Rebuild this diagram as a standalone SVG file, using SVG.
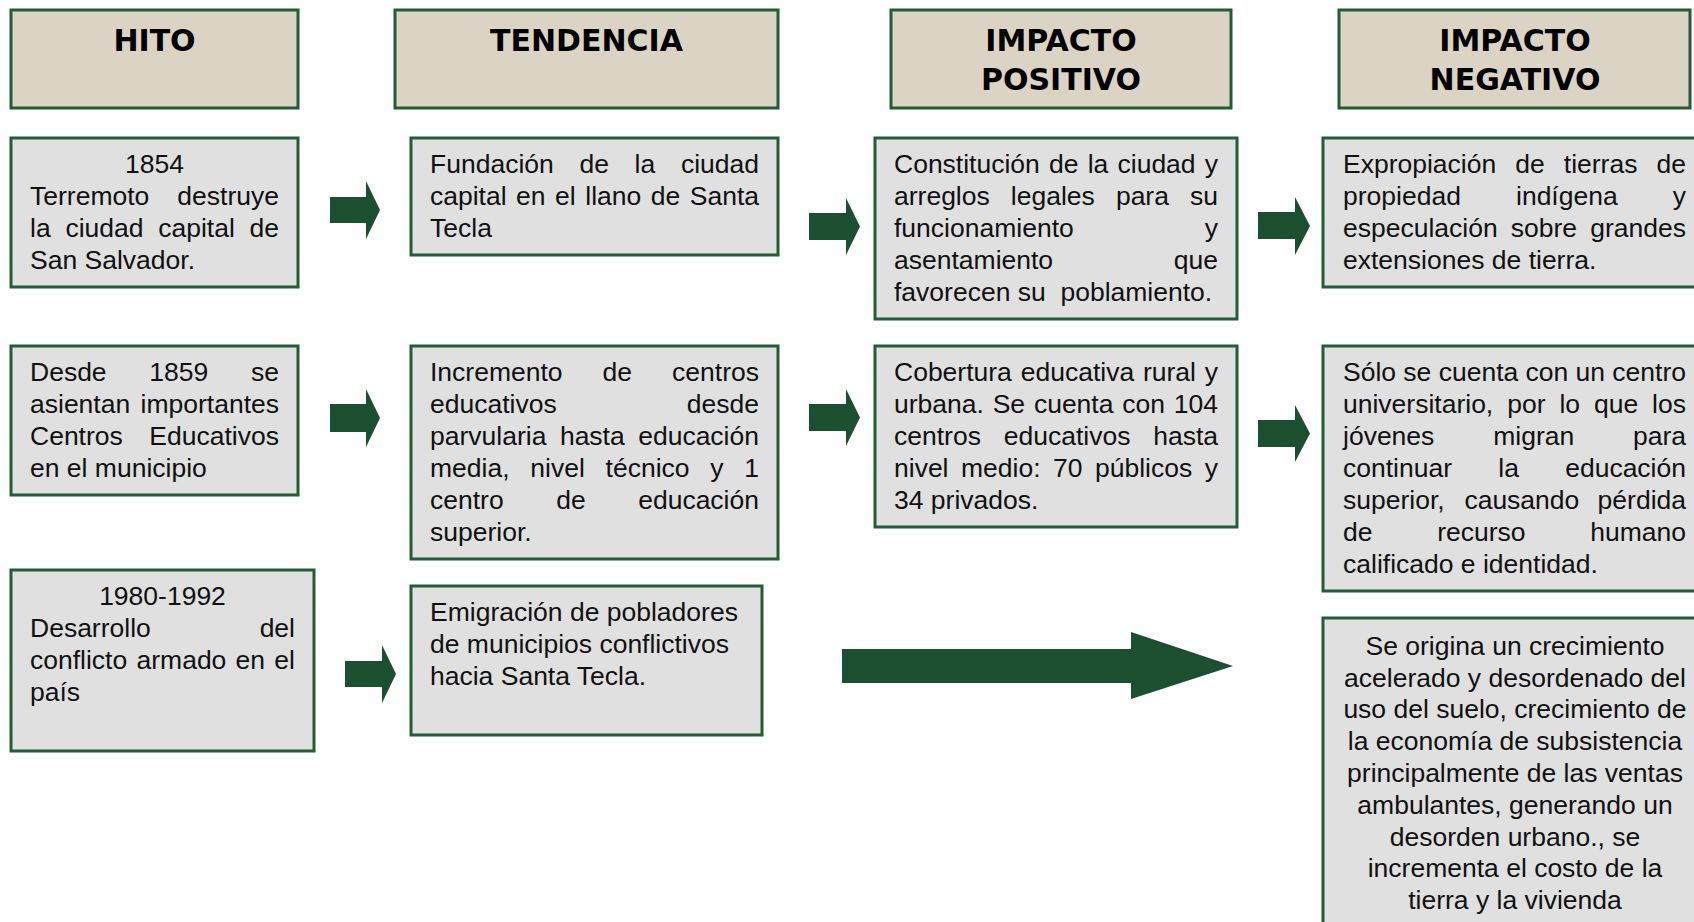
<svg xmlns="http://www.w3.org/2000/svg" width="1694" height="922" viewBox="0 0 1694 922">
<style>
.hd{fill:#dbd4c4;stroke:#245c37;stroke-width:3}
.bx{fill:#e0e0e0;stroke:#245c37;stroke-width:3}
.h{font-family:"DejaVu Sans",Verdana,sans-serif;font-weight:bold;font-size:30px;text-anchor:middle;fill:#000}
.t{font-family:"Liberation Sans",Arial,sans-serif;font-size:26.5px;fill:#111}
.c{text-anchor:middle}
.e{text-anchor:end}
.ar{fill:#1c4f30}
</style>
<rect width="1694" height="922" fill="#fff"/>

<g id="hdr-hito"><rect class="hd" x="11" y="10" width="287" height="98"/><text class="h" x="154.5" y="51">HITO</text></g>
<g id="hdr-tendencia"><rect class="hd" x="395" y="10" width="383" height="98"/><text class="h" x="586.5" y="51">TENDENCIA</text></g>
<g id="hdr-positivo"><rect class="hd" x="891" y="10" width="340" height="98"/><text class="h" x="1061" y="51">IMPACTO</text><text class="h" x="1061" y="90">POSITIVO</text></g>
<g id="hdr-negativo"><rect class="hd" x="1339" y="10" width="351" height="98"/><text class="h" x="1515" y="51">IMPACTO</text><text class="h" x="1515" y="90">NEGATIVO</text></g>

<g id="n1854"><rect class="bx" x="11" y="138" width="287" height="149"/>
<text class="t c" x="154.5" y="173">1854</text>
<text class="t" y="205"><tspan x="30">Terremoto</tspan><tspan class="e" x="279">destruye</tspan></text>
<text class="t" y="237"><tspan x="30">la</tspan><tspan x="65.4">ciudad</tspan><tspan x="158.2">capital</tspan><tspan class="e" x="279">de</tspan></text>
<text class="t" x="30" y="269">San Salvador.</text>
</g>

<g id="nfundacion"><rect class="bx" x="411" y="138" width="367" height="117"/>
<text class="t" y="173"><tspan x="430">Fundación</tspan><tspan x="579.4">de</tspan><tspan x="634.6">la</tspan><tspan class="e" x="759">ciudad</tspan></text>
<text class="t" y="205"><tspan x="430">capital</tspan><tspan x="516.1">en</tspan><tspan x="555.1">el</tspan><tspan x="585.3">llano</tspan><tspan x="650.8">de</tspan><tspan class="e" x="759">Santa</tspan></text>
<text class="t" x="430" y="237">Tecla</text>
</g>

<g id="nconstitucion"><rect class="bx" x="875" y="138" width="362" height="181"/>
<text class="t" y="173"><tspan x="894">Constitución</tspan><tspan x="1049">de</tspan><tspan x="1087.7">la</tspan><tspan x="1117.5">ciudad</tspan><tspan class="e" x="1218">y</tspan></text>
<text class="t" y="205"><tspan x="894">arreglos</tspan><tspan x="1010.8">legales</tspan><tspan x="1115.9">para</tspan><tspan class="e" x="1218">su</tspan></text>
<text class="t" y="237"><tspan x="894">funcionamiento</tspan><tspan class="e" x="1218">y</tspan></text>
<text class="t" y="269"><tspan x="894">asentamiento</tspan><tspan class="e" x="1218">que</tspan></text>
<text class="t" x="894" y="301" xml:space="preserve">favorecen su  poblamiento.</text>
</g>

<g id="nexpropiacion"><rect class="bx" x="1323" y="138" width="384" height="149"/>
<text class="t" y="173"><tspan x="1343">Expropiación</tspan><tspan x="1515.3">de</tspan><tspan x="1563.8">tierras</tspan><tspan class="e" x="1686">de</tspan></text>
<text class="t" y="205"><tspan x="1343">propiedad</tspan><tspan x="1516">indígena</tspan><tspan class="e" x="1686">y</tspan></text>
<text class="t" y="237"><tspan x="1343">especulación</tspan><tspan x="1510.8">sobre</tspan><tspan class="e" x="1686">grandes</tspan></text>
<text class="t" x="1343" y="269">extensiones de tierra.</text>
</g>

<g id="ndesde"><rect class="bx" x="11" y="346" width="287" height="149"/>
<text class="t" y="381"><tspan x="30">Desde</tspan><tspan x="149.3">1859</tspan><tspan class="e" x="279">se</tspan></text>
<text class="t" y="413"><tspan x="30">asientan</tspan><tspan class="e" x="279">importantes</tspan></text>
<text class="t" y="445"><tspan x="30">Centros</tspan><tspan class="e" x="279">Educativos</tspan></text>
<text class="t" x="30" y="477">en el municipio</text>
</g>

<g id="nincremento"><rect class="bx" x="411" y="346" width="367" height="213"/>
<text class="t" y="381"><tspan x="430">Incremento</tspan><tspan x="602.6">de</tspan><tspan class="e" x="759">centros</tspan></text>
<text class="t" y="413"><tspan x="430">educativos</tspan><tspan class="e" x="759">desde</tspan></text>
<text class="t" y="445"><tspan x="430">parvularia</tspan><tspan x="559.9">hasta</tspan><tspan class="e" x="759">educación</tspan></text>
<text class="t" y="477"><tspan x="430">media,</tspan><tspan x="530.3">nivel</tspan><tspan x="605.6">técnico</tspan><tspan x="710.3">y</tspan><tspan class="e" x="759">1</tspan></text>
<text class="t" y="509"><tspan x="430">centro</tspan><tspan x="556.2">de</tspan><tspan class="e" x="759">educación</tspan></text>
<text class="t" x="430" y="541">superior.</text>
</g>

<g id="ncobertura"><rect class="bx" x="875" y="346" width="362" height="181"/>
<text class="t" y="381"><tspan x="894">Cobertura</tspan><tspan x="1020.7">educativa</tspan><tspan x="1142.9">rural</tspan><tspan class="e" x="1218">y</tspan></text>
<text class="t" y="413"><tspan x="894">urbana.</tspan><tspan x="992.7">Se</tspan><tspan x="1033.9">cuenta</tspan><tspan x="1122.3">con</tspan><tspan class="e" x="1218">104</tspan></text>
<text class="t" y="445"><tspan x="894">centros</tspan><tspan x="1003.7">educativos</tspan><tspan class="e" x="1218">hasta</tspan></text>
<text class="t" y="477"><tspan x="894">nivel</tspan><tspan x="961">medio:</tspan><tspan x="1053">70</tspan><tspan x="1095">públicos</tspan><tspan class="e" x="1218">y</tspan></text>
<text class="t" x="894" y="509">34 privados.</text>
</g>

<g id="nsolo"><rect class="bx" x="1323" y="346" width="384" height="245"/>
<text class="t" y="381"><tspan x="1343">Sólo</tspan><tspan x="1403.3">se</tspan><tspan x="1438.7">cuenta</tspan><tspan x="1525.5">con</tspan><tspan x="1575.6">un</tspan><tspan class="e" x="1686">centro</tspan></text>
<text class="t" y="413"><tspan x="1343">universitario,</tspan><tspan x="1507.2">por</tspan><tspan x="1559.4">lo</tspan><tspan x="1594">que</tspan><tspan class="e" x="1686">los</tspan></text>
<text class="t" y="445"><tspan x="1343">jóvenes</tspan><tspan x="1493.2">migran</tspan><tspan class="e" x="1686">para</tspan></text>
<text class="t" y="477"><tspan x="1343">continuar</tspan><tspan x="1498.3">la</tspan><tspan class="e" x="1686">educación</tspan></text>
<text class="t" y="509"><tspan x="1343">superior,</tspan><tspan x="1464.4">causando</tspan><tspan class="e" x="1686">pérdida</tspan></text>
<text class="t" y="541"><tspan x="1343">de</tspan><tspan x="1437.2">recurso</tspan><tspan class="e" x="1686">humano</tspan></text>
<text class="t" x="1343" y="573">calificado e identidad.</text>
</g>

<g id="n1980"><rect class="bx" x="11" y="570" width="303" height="181"/>
<text class="t c" x="162.5" y="605">1980-1992</text>
<text class="t" y="637"><tspan x="30">Desarrollo</tspan><tspan class="e" x="295">del</tspan></text>
<text class="t" y="669"><tspan x="30">conflicto</tspan><tspan x="136.5">armado</tspan><tspan x="235.6">en</tspan><tspan class="e" x="295">el</tspan></text>
<text class="t" x="30" y="701">país</text>
</g>

<g id="nemigracion"><rect class="bx" x="411" y="586" width="351" height="149"/>
<text class="t" x="430" y="621">Emigración de pobladores</text>
<text class="t" x="430" y="653">de municipios conflictivos</text>
<text class="t" x="430" y="685">hacia Santa Tecla.</text>
</g>

<g id="norigina"><rect class="bx" x="1323" y="618" width="384" height="330"/>
<text class="t c" x="1515" y="655">Se origina un crecimiento</text>
<text class="t c" x="1515" y="687">acelerado y desordenado del</text>
<text class="t c" x="1515" y="718">uso del suelo, crecimiento de</text>
<text class="t c" x="1515" y="750">la economía de subsistencia</text>
<text class="t c" x="1515" y="782">principalmente de las ventas</text>
<text class="t c" x="1515" y="814">ambulantes, generando un</text>
<text class="t c" x="1515" y="846">desorden urbano., se</text>
<text class="t c" x="1515" y="877">incrementa el costo de la</text>
<text class="t c" x="1515" y="909">tierra y la vivienda</text>
</g>

<g id="connectors">
<polygon class="ar" points="330,197 366,197 366,181 380,210 366,239 366,223 330,223"/>
<polygon class="ar" points="809,213 846,213 846,198 860,226.5 846,255 846,240 809,240"/>
<polygon class="ar" points="1258,212 1295,212 1295,197 1310,226 1295,255 1295,239 1258,239"/>
<polygon class="ar" points="330,404 366,404 366,389 380,418 366,447 366,432 330,432"/>
<polygon class="ar" points="809,404 846,404 846,389 860,417.5 846,446 846,431 809,431"/>
<polygon class="ar" points="1258,420 1295,420 1295,405 1310,433.5 1295,462 1295,447 1258,447"/>
<polygon class="ar" points="345,661 382,661 382,645 396,674 382,703 382,687 345,687"/>
<polygon class="ar" points="842,649 1131,649 1131,632 1233,666 1131,699 1131,683 842,683"/>
</g>
</svg>
